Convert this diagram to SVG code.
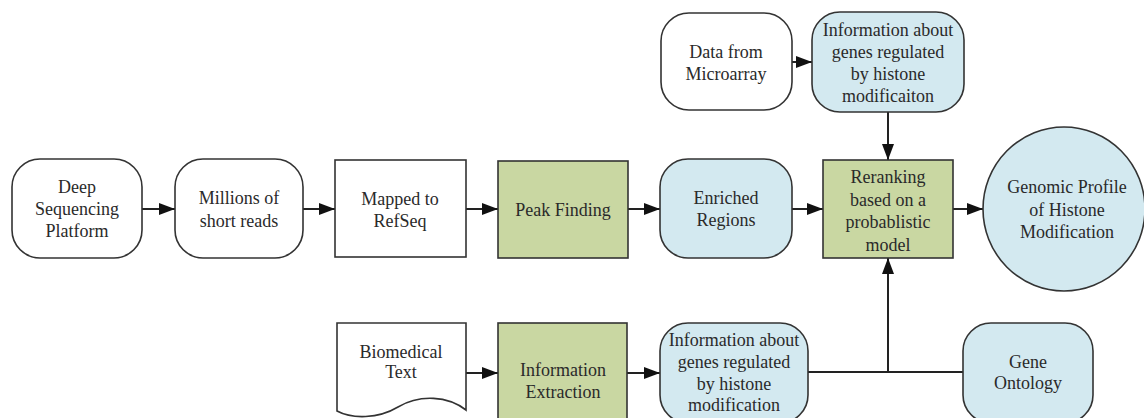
<svg xmlns="http://www.w3.org/2000/svg" width="1144" height="418" viewBox="0 0 1144 418">
  <style>
    .box { stroke: #333; stroke-width: 1.6; }
    .plain { fill: #ffffff; }
    .blue { fill: #d3e9f0; }
    .green { fill: #c9d7a2; }
    .lbl { font-family: "Liberation Serif", "Times New Roman", "DejaVu Serif", serif; font-size: 18px; fill: #2a2a2a; text-anchor: middle; }
    .edge { stroke: #222; stroke-width: 2; fill: none; }
  </style>
  <defs>
    <marker id="arrow" viewBox="0 0 16 12" refX="16" refY="6" markerWidth="16" markerHeight="12" markerUnits="userSpaceOnUse" orient="auto">
      <path d="M0,0 L16,6 L0,12 Z" fill="#111"/>
    </marker>
  </defs>
  <rect width="1144" height="418" fill="#ffffff"/>

  <!-- connectors -->
  <g id="connectors">
    <line class="edge" x1="142" y1="209" x2="175" y2="209" marker-end="url(#arrow)"/>
    <line class="edge" x1="303" y1="209" x2="335" y2="209" marker-end="url(#arrow)"/>
    <line class="edge" x1="466" y1="209" x2="498" y2="209" marker-end="url(#arrow)"/>
    <line class="edge" x1="628" y1="209" x2="660" y2="209" marker-end="url(#arrow)"/>
    <line class="edge" x1="792" y1="209" x2="823" y2="209" marker-end="url(#arrow)"/>
    <line class="edge" x1="953" y1="209" x2="983" y2="209" marker-end="url(#arrow)"/>
    <line class="edge" x1="792" y1="62" x2="812" y2="62" marker-end="url(#arrow)"/>
    <line class="edge" x1="888" y1="112" x2="888" y2="160" marker-end="url(#arrow)"/>
    <line class="edge" x1="466" y1="373" x2="498" y2="373" marker-end="url(#arrow)"/>
    <line class="edge" x1="627" y1="373" x2="660" y2="373" marker-end="url(#arrow)"/>
    <polyline class="edge" points="808,372 963,372"/>
    <line class="edge" x1="888" y1="372" x2="888" y2="258" marker-end="url(#arrow)"/>
  </g>

  <g id="deep-sequencing">
    <rect class="box plain" x="12" y="159" width="130" height="99" rx="28"/>
    <text class="lbl" x="77" y="193">Deep</text>
    <text class="lbl" x="77" y="215">Sequencing</text>
    <text class="lbl" x="77" y="237">Platform</text>
  </g>

  <g id="short-reads">
    <rect class="box plain" x="175" y="159" width="128" height="99" rx="28"/>
    <text class="lbl" x="239" y="204">Millions of</text>
    <text class="lbl" x="239" y="227">short reads</text>
  </g>

  <g id="mapped">
    <rect class="box plain" x="335" y="160" width="131" height="97"/>
    <text class="lbl" x="400" y="205">Mapped to</text>
    <text class="lbl" x="400" y="227">RefSeq</text>
  </g>

  <g id="peak-finding">
    <rect class="box green" x="498" y="161" width="130" height="97"/>
    <text class="lbl" x="563" y="216">Peak Finding</text>
  </g>

  <g id="enriched">
    <rect class="box blue" x="660" y="159" width="132" height="99" rx="28"/>
    <text class="lbl" x="726" y="204">Enriched</text>
    <text class="lbl" x="726" y="226">Regions</text>
  </g>

  <g id="microarray">
    <rect class="box plain" x="661" y="13" width="131" height="97" rx="28"/>
    <text class="lbl" x="726" y="58">Data from</text>
    <text class="lbl" x="726" y="80">Microarray</text>
  </g>

  <g id="genes-microarray">
    <rect class="box blue" x="812" y="12" width="152" height="100" rx="28"/>
    <text class="lbl" x="888" y="36">Information about</text>
    <text class="lbl" x="888" y="58">genes regulated</text>
    <text class="lbl" x="888" y="80">by histone</text>
    <text class="lbl" x="888" y="102">modificaiton</text>
  </g>

  <g id="reranking">
    <rect class="box green" x="823" y="160" width="130" height="98"/>
    <text class="lbl" x="888" y="183">Reranking</text>
    <text class="lbl" x="888" y="206">based on a</text>
    <text class="lbl" x="888" y="228">probablistic</text>
    <text class="lbl" x="888" y="251">model</text>
  </g>

  <g id="genomic-profile">
    <ellipse class="box blue" cx="1064" cy="209" rx="81" ry="82"/>
    <text class="lbl" x="1067" y="193">Genomic Profile</text>
    <text class="lbl" x="1067" y="216">of Histone</text>
    <text class="lbl" x="1067" y="238">Modification</text>
  </g>

  <g id="biomedical-text">
    <path class="box plain" d="M337,323 H466 V410 C448,396 420,394 398,407 C378,419 352,419 337,411 Z"/>
    <text class="lbl" x="401" y="358">Biomedical</text>
    <text class="lbl" x="401" y="378">Text</text>
  </g>

  <g id="information-extraction">
    <rect class="box green" x="498" y="323" width="129" height="110"/>
    <text class="lbl" x="563" y="376">Information</text>
    <text class="lbl" x="563" y="398">Extraction</text>
  </g>

  <g id="genes-text">
    <rect class="box blue" x="660" y="323" width="148" height="100" rx="28"/>
    <text class="lbl" x="734" y="346">Information about</text>
    <text class="lbl" x="734" y="368">genes regulated</text>
    <text class="lbl" x="734" y="390">by histone</text>
    <text class="lbl" x="734" y="411">modification</text>
  </g>

  <g id="gene-ontology">
    <rect class="box blue" x="963" y="323" width="130" height="100" rx="28"/>
    <text class="lbl" x="1028" y="368">Gene</text>
    <text class="lbl" x="1028" y="389">Ontology</text>
  </g>
</svg>
